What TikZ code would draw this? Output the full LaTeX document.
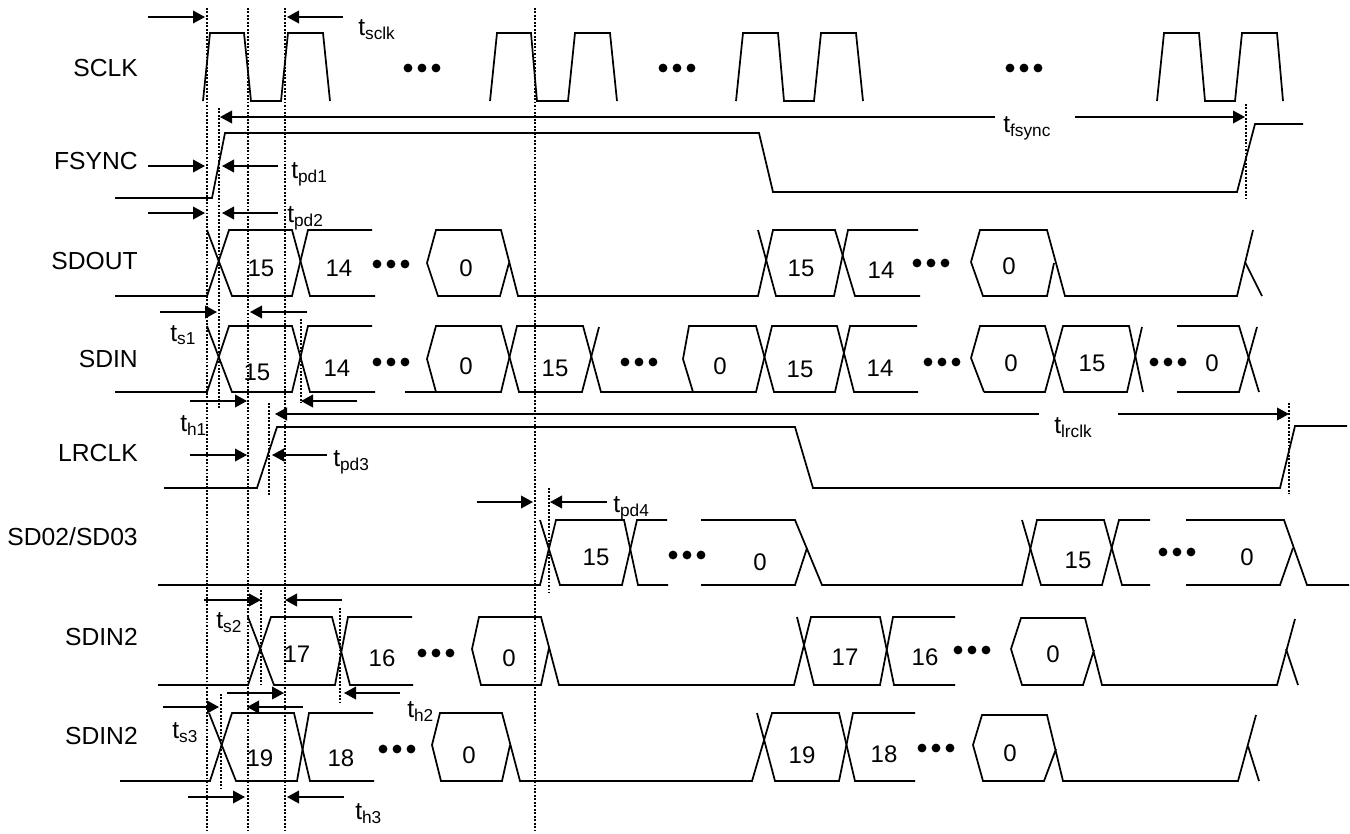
\documentclass[tikz,border=0pt]{standalone}
\usepackage{fontspec}
\setmainfont{Liberation Sans}
\usetikzlibrary{arrows.meta}
\tikzset{
  wave/.style={line width=1.3pt,line join=miter},
  guide/.style={line width=1.1pt,dash pattern=on 1.4pt off 1.2pt},
  span/.style={line width=1.2pt,-{Triangle[length=9pt,width=9.5pt]}},
  signal/.style={anchor=east,inner sep=0pt,font=\fontsize{18.5}{22}\selectfont},
  value/.style={inner sep=0pt,font=\fontsize{18}{22}\selectfont},
  timing/.style={anchor=base west,inner sep=0pt,font=\fontsize{18.5}{22}\selectfont}
}
\begin{document}
\begin{tikzpicture}[x=.75pt,y=-.75pt]
        \useasboundingbox (0,0) rectangle (1350,833);

        \begin{scope}[every node/.style={signal}]
          \node (sclk)  at (138,68)  {SCLK};
          \node (fsync) at (138,161) {FSYNC};
          \node (sdout) at (138,261) {SDOUT};
          \node (sdin)  at (138,359) {SDIN};
          \node (lrclk) at (138,453) {LRCLK};
          \node (sd)    at (138,537) {SD02/SD03};
          \node (sdina) at (138,637) {SDIN2};
          \node (sdinb) at (138,736) {SDIN2};
        \end{scope}

        \begin{scope}[every node/.style={value}]
          \node (o15a) at (261,268) {15};
          \node (o14a) at (339,268) {14};
          \node (o0a)  at (466,268) {0};
          \node (o15b) at (801,268) {15};
          \node (o14b) at (881,270) {14};
          \node (o0b)  at (1009,266) {0};
          \node (i15a) at (257,372) {15};
          \node (i14a) at (337,368) {14};
          \node (i0a)  at (466,366) {0};
          \node (i15b) at (555,368) {15};
          \node (i0b)  at (720,366) {0};
          \node (i15c) at (800,369) {15};
          \node (i14b) at (880,368) {14};
          \node (i0c)  at (1011,363) {0};
          \node (i15d) at (1092,363) {15};
          \node (i0d)  at (1212,363) {0};
          \node (d15a) at (596,557) {15};
          \node (d0a)  at (760,562) {0};
          \node (d15b) at (1078,560) {15};
          \node (d0b)  at (1247,557) {0};
          \node (a17a) at (297,654) {17};
          \node (a16a) at (382,658) {16};
          \node (a0a)  at (509,658) {0};
          \node (a17b) at (845,657) {17};
          \node (a16b) at (925,657) {16};
          \node (a0b)  at (1053,654) {0};
          \node (b19a) at (260,758) {19};
          \node (b18a) at (341,758) {18};
          \node (b0a)  at (469,755) {0};
          \node (b19b) at (802,755) {19};
          \node (b18b) at (884,754) {18};
          \node (b0b)  at (1010,753) {0};
        \end{scope}

        \begin{scope}[every node/.style={timing}]
          \node (tsclk)  at (358,35)   {t\textsubscript{sclk}};
          \node (tfsync) at (1003,132) {t\textsubscript{fsync}};
          \node (tpda)   at (291,178)  {t\textsubscript{pd1}};
          \node (tpdb)   at (287,222)  {t\textsubscript{pd2}};
          \node (tsa)    at (170,341)  {t\textsubscript{s1}};
          \node (tha)    at (180,431)  {t\textsubscript{h1}};
          \node (tlrclk) at (1054,433) {t\textsubscript{lrclk}};
          \node (tpdc)   at (333,466)  {t\textsubscript{pd3}};
          \node (tpdd)   at (613,512)  {t\textsubscript{pd4}};
          \node (tsb)    at (216,628)  {t\textsubscript{s2}};
          \node (thb)    at (407,717)  {t\textsubscript{h2}};
          \node (tsc)    at (172,738)  {t\textsubscript{s3}};
          \node (thc)    at (355,819)  {t\textsubscript{h3}};
        \end{scope}

        \begin{scope}[guide]
          \draw (207,8) -- (207,833);
          \draw (248,8) -- (248,833);
          \draw (285,8) -- (285,833);
          \draw (535,8) -- (535,833);
          \draw (219,108) -- (219,408);
          \draw (1246,104) -- (1246,198);
          \draw (301,319) -- (301,403);
          \draw (269,403) -- (269,495);
          \draw (1289,403) -- (1289,494);
          \draw (549,488) -- (549,593);
          \draw (261,590) -- (261,684);
          \draw (340,608) -- (340,702);
          \draw (221,694) -- (221,788);
        \end{scope}

        \begin{scope}[wave]
          \draw (203,101) -- (210,33) -- (244,33) -- (251,101) -- (281,101) -- (288,33) -- (323,33) -- (330,101);
          \draw (490,101) -- (497,33) -- (531,33) -- (537,101) -- (568,101) -- (575,33) -- (610,33) -- (617,101);
          \draw (736,101) -- (743,33) -- (778,33) -- (784,101) -- (814,101) -- (821,33) -- (856,33) -- (863,101);
          \draw (1157,101) -- (1164,33) -- (1199,33) -- (1205,101) -- (1235,101) -- (1242,33) -- (1277,33) -- (1283,101);

          \draw (115,198) -- (212,198) -- (225,133) -- (759,133) -- (773,192) -- (1237,192) -- (1255,124) -- (1303,124);

          \draw (115,296) -- (207,296) -- (229,230) -- (292,230) -- (310,296) -- (375,296);
          \draw (207,230) -- (232,296) -- (292,296) -- (308,230) -- (372,230);
          \draw (509,263) -- (500,296) -- (438,296) -- (427,263) -- (436,230) -- (501,230) -- (518,296) -- (758,296) -- (773,230) -- (835,230) -- (855,296) -- (920,296);
          \draw (758,230) -- (776,296) -- (834,296) -- (848,230) -- (918,230);
          \draw (1054,263) -- (1047,296) -- (983,296) -- (971,262) -- (980,230) -- (1047,230) -- (1065,296) -- (1237,296) -- (1253,230);
          \draw (1245,262) -- (1262,296);

          \draw (115,392) -- (207,392) -- (229,326) -- (292,326) -- (310,392) -- (375,392);
          \draw (207,326) -- (232,392) -- (292,392) -- (308,326) -- (372,326);
          \draw (405,392) -- (501,392) -- (517,326) -- (583,326) -- (601,392) -- (693,392) -- (683,359) -- (689,326) -- (756,326) -- (774,392) -- (835,392) -- (850,326) -- (917,326);
          \draw (436,392) -- (427,359) -- (436,326) -- (501,326) -- (519,392) -- (582,392) -- (599,327);
          \draw (693,392) -- (756,392) -- (772,326) -- (837,326) -- (854,392) -- (918,392);
          \draw (984,392) -- (971,358) -- (980,326) -- (1045,326) -- (1064,392) -- (1127,392) -- (1142,327);
          \draw (984,392) -- (1045,392) -- (1063,326) -- (1129,326) -- (1143,392);
          \draw (1177,326) -- (1239,326) -- (1259,392);
          \draw (1177,392) -- (1239,392) -- (1257,327);

          \draw (164,488) -- (257,488) -- (277,427) -- (795,427) -- (813,488) -- (1280,488) -- (1295,426) -- (1347,426);

          \draw (158,585) -- (540,585) -- (556,520) -- (624,520) -- (638,585) -- (668,585);
          \draw (540,520) -- (560,585) -- (622,585) -- (637,520) -- (667,520);
          \draw (701,520) -- (795,520) -- (822,585) -- (1022,585) -- (1037,520) -- (1104,520) -- (1122,585) -- (1150,585);
          \draw (701,585) -- (795,585) -- (807,548);
          \draw (1022,520) -- (1041,585) -- (1102,585) -- (1119,520) -- (1150,520);
          \draw (1186,520) -- (1284,520) -- (1307,585) -- (1349,585);
          \draw (1186,585) -- (1280,585) -- (1293,548);

          \draw (158,685) -- (248,685) -- (271,617) -- (332,617) -- (350,685) -- (413,685);
          \draw (248,617) -- (274,685) -- (335,685) -- (348,617) -- (412,617);
          \draw (549,648) -- (541,685) -- (481,685) -- (472,649) -- (479,617) -- (541,617) -- (559,685) -- (794,685) -- (811,617) -- (880,617) -- (894,685) -- (955,685);
          \draw (797,617) -- (814,685) -- (880,685) -- (893,617) -- (955,617);
          \draw (1094,650) -- (1083,685) -- (1022,685) -- (1011,649) -- (1021,618) -- (1085,618) -- (1102,685) -- (1277,685) -- (1295,619);
          \draw (1286,649) -- (1298,685);

          \draw (120,781) -- (210,781) -- (232,713) -- (294,713) -- (310,781) -- (374,781);
          \draw (209,713) -- (236,781) -- (297,781) -- (309,713) -- (373,713);
          \draw (510,745) -- (502,781) -- (441,781) -- (432,745) -- (440,713) -- (502,713) -- (520,781) -- (752,781) -- (772,713) -- (839,713) -- (855,781) -- (915,781);
          \draw (757,713) -- (775,781) -- (839,781) -- (853,713) -- (915,713);
          \draw (1056,749) -- (1044,781) -- (983,781) -- (973,745) -- (982,715) -- (1047,715) -- (1063,781) -- (1238,781) -- (1256,715);
          \draw (1248,746) -- (1259,781);
        \end{scope}

        \foreach \x/\y in {422/68,677/68,1024/68,391/264,931/263,391/362,639/362,942/362,1168/362,687/555,1177/552,436/653,972/650,397/749,936/748} {
          \fill (\x-14,\y) circle (3.3pt);
          \fill (\x,\y) circle (3.3pt);
          \fill (\x+14,\y) circle (3.3pt);
        }

        \begin{scope}[span]
          \draw (148,17) -- (205,17);
          \draw (343,17) -- (287,17);
          \draw (995,117) -- (220,117);
          \draw (1075,117) -- (1245,117);
          \draw (148,166) -- (205,166);
          \draw (278,166) -- (222,166);
          \draw (148,213) -- (205,213);
          \draw (278,213) -- (222,213);
          \draw (160,312) -- (217,312);
          \draw (307,312) -- (250,312);
          \draw (190,401) -- (247,401);
          \draw (357,401) -- (301,401);
          \draw (1039,414) -- (275,414);
          \draw (1118,414) -- (1289,414);
          \draw (190,455) -- (247,455);
          \draw (327,455) -- (272,455);
          \draw (477,502) -- (533,502);
          \draw (607,502) -- (550,502);
          \draw (204,600) -- (261,600);
          \draw (342,600) -- (285,600);
          \draw (227,693) -- (284,693);
          \draw (400,693) -- (344,693);
          \draw (163,707) -- (219,707);
          \draw (303,707) -- (247,707);
          \draw (188,797) -- (245,797);
          \draw (344,797) -- (287,797);
        \end{scope}

      \end{tikzpicture}
\end{document}
